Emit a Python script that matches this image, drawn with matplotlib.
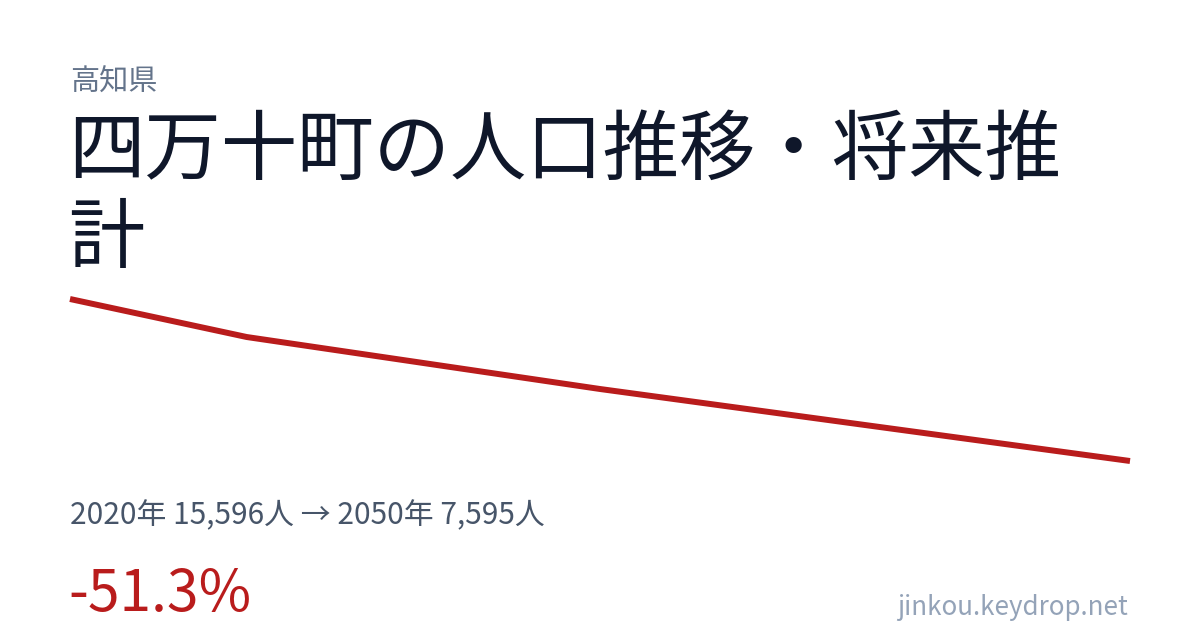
import matplotlib.pyplot as plt

plt.rcParams['font.family'] = ['Noto Sans CJK JP', 'DejaVu Sans']

years = [2020, 2025, 2030, 2035, 2040, 2045, 2050]
population = [15596, 13719, 12435, 11151, 9965, 8780, 7595]

W, H = 1200, 630
fig = plt.figure(figsize=(12, 6.3), dpi=100)
fig.patch.set_facecolor("white")

# axes placed so the line spans x 70..1130 px and y 299..461 px
ax = fig.add_axes([70 / W, 1 - 461 / H, (1130 - 70) / W, (461 - 299) / H])
ax.plot(years, population, color="#b91c1c", linewidth=4.3,
        solid_capstyle="butt", solid_joinstyle="round", clip_on=False)
ax.set_xlim(years[0], years[-1])
ax.set_ylim(min(population), max(population))
ax.axis("off")

def px(x, y):
    return x / W, 1 - y / H

fig.text(*px(70, 83), "高知県", fontsize=21, color="#64748b", va="center")
fig.text(*px(68, 152), "四万十町の人口推移・将来推", fontsize=55,
         color="#0f172a", va="center")
fig.text(*px(68, 240), "計", fontsize=55, color="#0f172a", va="center")
fig.text(*px(70, 516), "2020年 15,596人 → 2050年 7,595人", fontsize=21.5,
         color="#475569", va="center")
fig.text(*px(68, 611), "-51.3%", fontsize=41, color="#b91c1c", va="baseline")
fig.text(*px(1128, 615), "jinkou.keydrop.net", fontsize=18.7,
         color="#94a3b8", va="baseline", ha="right")

fig.savefig("out.png", dpi=100, facecolor="white")
